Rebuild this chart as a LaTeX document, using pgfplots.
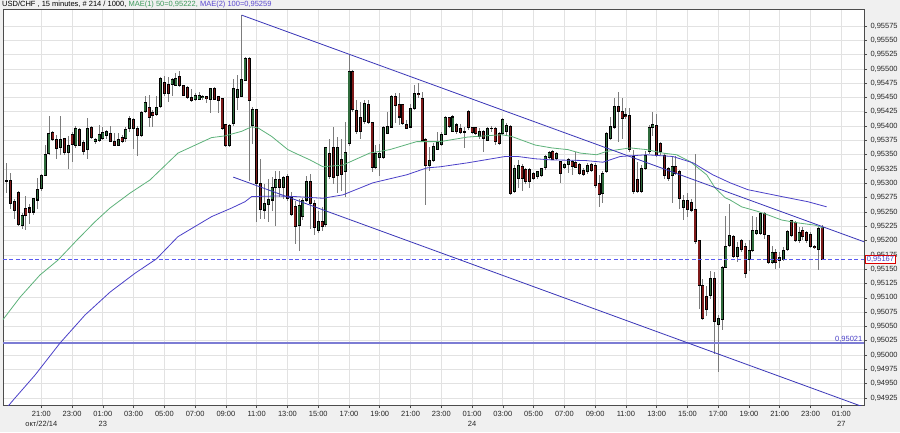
\documentclass[border=0pt]{standalone}
\usepackage{pgfplots}
\pgfplotsset{compat=1.18}
\usepackage{pgfplotstable}
\usepackage{fontspec}
\setmainfont{Liberation Sans}

\definecolor{bg}{HTML}{F0F0F0}
\definecolor{gridc}{HTML}{E2E2E2}
\definecolor{upc}{HTML}{2F6B3C}
\definecolor{dnc}{HTML}{7E1A1A}
\definecolor{wickc}{HTML}{7C7C7C}
\definecolor{magreen}{HTML}{5DB27A}
\definecolor{mablue}{HTML}{4A40C8}
\definecolor{trendc}{HTML}{3A36B8}
\definecolor{hlinec}{HTML}{5A5AF0}
\definecolor{hlinelt}{HTML}{7C7CD4}
\definecolor{hdrgreen}{HTML}{3E9A5C}
\definecolor{hdrblue}{HTML}{5A48D0}

% 15 minute candles, k = bar number
\pgfplotstableread{
k o h l c
0 0.95306 0.95337 0.95284 0.95305
1 0.95306 0.95319 0.95256 0.95265
2 0.95269 0.95273 0.95238 0.95253
3 0.95285 0.95288 0.95226 0.95228
4 0.95227 0.95250 0.95222 0.95245
5 0.95256 0.95279 0.95220 0.95245
6 0.95257 0.95265 0.95230 0.95249
7 0.95251 0.95276 0.95247 0.95275
8 0.95272 0.95310 0.95255 0.95290
9 0.95291 0.95317 0.95288 0.95313
10 0.95314 0.95368 0.95313 0.95352
11 0.95354 0.95419 0.95350 0.95389
12 0.95389 0.95392 0.95374 0.95378
13 0.95378 0.95385 0.95343 0.95362
14 0.95362 0.95419 0.95350 0.95376
15 0.95378 0.95380 0.95350 0.95354
16 0.95354 0.95383 0.95325 0.95366
17 0.95386 0.95389 0.95337 0.95368
18 0.95367 0.95401 0.95364 0.95398
19 0.95396 0.95399 0.95366 0.95368
20 0.95372 0.95376 0.95350 0.95357
21 0.95361 0.95414 0.95343 0.95398
22 0.95398 0.95401 0.95378 0.95380
23 0.95375 0.95380 0.95370 0.95378
24 0.95375 0.95403 0.95372 0.95385
25 0.95379 0.95399 0.95376 0.95390
26 0.95385 0.95395 0.95379 0.95392
27 0.95389 0.95400 0.95373 0.95375
28 0.95374 0.95388 0.95366 0.95367
29 0.95368 0.95389 0.95366 0.95378
30 0.95382 0.95386 0.95372 0.95374
31 0.95380 0.95400 0.95374 0.95396
32 0.95396 0.95419 0.95391 0.95413
33 0.95413 0.95415 0.95361 0.95398
34 0.95398 0.95401 0.95348 0.95385
35 0.95385 0.95427 0.95382 0.95426
36 0.95426 0.95454 0.95423 0.95441
37 0.95433 0.95455 0.95399 0.95416
38 0.95424 0.95429 0.95399 0.95418
39 0.95422 0.95455 0.95420 0.95434
40 0.95434 0.95487 0.95433 0.95484
41 0.95478 0.95487 0.95453 0.95458
42 0.95474 0.95487 0.95443 0.95458
43 0.95474 0.95484 0.95453 0.95482
44 0.95472 0.95493 0.95471 0.95484
45 0.95487 0.95496 0.95468 0.95471
46 0.95472 0.95472 0.95453 0.95455
47 0.95469 0.95471 0.95449 0.95451
48 0.95451 0.95466 0.95443 0.95445
49 0.95447 0.95459 0.95445 0.95453
50 0.95447 0.95461 0.95446 0.95455
51 0.95451 0.95455 0.95447 0.95453
52 0.95452 0.95453 0.95441 0.95449
53 0.95447 0.95466 0.95424 0.95465
54 0.95466 0.95469 0.95446 0.95447
55 0.95453 0.95453 0.95423 0.95446
56 0.95449 0.95449 0.95395 0.95396
57 0.95404 0.95405 0.95365 0.95367
58 0.95367 0.95404 0.95364 0.95402
59 0.95405 0.95484 0.95402 0.95466
60 0.95451 0.95490 0.95429 0.95466
61 0.95453 0.95594 0.95451 0.95482
62 0.95481 0.95522 0.95480 0.95519
63 0.95520 0.95522 0.95306 0.95446
64 0.95402 0.95434 0.95370 0.95429
65 0.95429 0.95430 0.95233 0.95300
66 0.95300 0.95344 0.95238 0.95256
67 0.95254 0.95300 0.95238 0.95265
68 0.95265 0.95309 0.95233 0.95274
69 0.95272 0.95312 0.95253 0.95294
70 0.95294 0.95323 0.95227 0.95309
71 0.95309 0.95323 0.95276 0.95294
72 0.95294 0.95314 0.95274 0.95312
73 0.95313 0.95317 0.95271 0.95274
74 0.95276 0.95285 0.95244 0.95247
75 0.95260 0.95270 0.95195 0.95225
76 0.95228 0.95274 0.95183 0.95262
77 0.95242 0.95274 0.95236 0.95271
78 0.95271 0.95313 0.95268 0.95303
79 0.95304 0.95318 0.95221 0.95265
80 0.95265 0.95271 0.95209 0.95224
81 0.95218 0.95253 0.95215 0.95233
82 0.95234 0.95259 0.95218 0.95224
83 0.95230 0.95364 0.95224 0.95364
84 0.95353 0.95379 0.95309 0.95312
85 0.95364 0.95399 0.95300 0.95312
86 0.95315 0.95382 0.95285 0.95364
87 0.95341 0.95379 0.95288 0.95315
88 0.95323 0.95408 0.95277 0.95356
89 0.95370 0.95525 0.95367 0.95496
90 0.95496 0.95499 0.95426 0.95429
91 0.95429 0.95447 0.95388 0.95391
92 0.95414 0.95443 0.95379 0.95391
93 0.95408 0.95447 0.95405 0.95440
94 0.95438 0.95446 0.95404 0.95408
95 0.95408 0.95408 0.95321 0.95329
96 0.95329 0.95367 0.95326 0.95353
97 0.95346 0.95370 0.95315 0.95353
98 0.95347 0.95402 0.95344 0.95399
99 0.95388 0.95426 0.95387 0.95401
100 0.95399 0.95455 0.95397 0.95452
101 0.95452 0.95458 0.95405 0.95436
102 0.95439 0.95458 0.95402 0.95417
103 0.95438 0.95439 0.95402 0.95405
104 0.95404 0.95411 0.95394 0.95397
105 0.95399 0.95438 0.95398 0.95432
106 0.95432 0.95473 0.95429 0.95458
107 0.95457 0.95476 0.95449 0.95455
108 0.95449 0.95461 0.95373 0.95376
109 0.95376 0.95379 0.95262 0.95332
110 0.95332 0.95364 0.95323 0.95341
111 0.95341 0.95370 0.95338 0.95366
112 0.95361 0.95391 0.95358 0.95373
113 0.95369 0.95391 0.95367 0.95386
114 0.95386 0.95417 0.95385 0.95415
115 0.95415 0.95417 0.95397 0.95400
116 0.95391 0.95420 0.95390 0.95417
117 0.95403 0.95406 0.95388 0.95391
118 0.95398 0.95404 0.95388 0.95391
119 0.95392 0.95400 0.95362 0.95391
120 0.95426 0.95429 0.95394 0.95398
121 0.95398 0.95400 0.95388 0.95390
122 0.95398 0.95400 0.95386 0.95388
123 0.95382 0.95398 0.95379 0.95391
124 0.95391 0.95394 0.95356 0.95379
125 0.95376 0.95398 0.95374 0.95397
126 0.95397 0.95400 0.95391 0.95398
127 0.95397 0.95400 0.95368 0.95374
128 0.95388 0.95391 0.95368 0.95371
129 0.95388 0.95415 0.95385 0.95412
130 0.95391 0.95406 0.95385 0.95402
131 0.95400 0.95402 0.95281 0.95283
132 0.95286 0.95333 0.95285 0.95327
133 0.95309 0.95341 0.95292 0.95333
134 0.95330 0.95333 0.95286 0.95309
135 0.95324 0.95327 0.95300 0.95303
136 0.95324 0.95327 0.95292 0.95303
137 0.95318 0.95320 0.95306 0.95309
138 0.95312 0.95322 0.95309 0.95321
139 0.95315 0.95328 0.95312 0.95327
140 0.95327 0.95350 0.95324 0.95347
141 0.95347 0.95359 0.95345 0.95356
142 0.95357 0.95359 0.95343 0.95344
143 0.95344 0.95356 0.95341 0.95353
144 0.95340 0.95341 0.95302 0.95318
145 0.95327 0.95335 0.95324 0.95333
146 0.95333 0.95344 0.95318 0.95341
147 0.95340 0.95341 0.95315 0.95330
148 0.95337 0.95356 0.95327 0.95328
149 0.95333 0.95335 0.95315 0.95318
150 0.95324 0.95327 0.95314 0.95316
151 0.95321 0.95336 0.95318 0.95333
152 0.95334 0.95337 0.95320 0.95324
153 0.95333 0.95336 0.95292 0.95298
154 0.95300 0.95315 0.95259 0.95280
155 0.95283 0.95321 0.95265 0.95318
156 0.95320 0.95391 0.95318 0.95388
157 0.95379 0.95417 0.95376 0.95400
158 0.95400 0.95450 0.95397 0.95435
159 0.95435 0.95460 0.95374 0.95426
160 0.95426 0.95450 0.95379 0.95414
161 0.95420 0.95432 0.95414 0.95417
162 0.95419 0.95432 0.95356 0.95359
163 0.95347 0.95359 0.95283 0.95286
164 0.95306 0.95338 0.95283 0.95286
165 0.95286 0.95333 0.95283 0.95327
166 0.95327 0.95356 0.95324 0.95350
167 0.95356 0.95403 0.95353 0.95398
168 0.95397 0.95426 0.95385 0.95403
169 0.95403 0.95423 0.95347 0.95350
170 0.95371 0.95374 0.95350 0.95356
171 0.95350 0.95353 0.95308 0.95315
172 0.95327 0.95330 0.95306 0.95309
173 0.95315 0.95347 0.95268 0.95330
174 0.95330 0.95347 0.95315 0.95318
175 0.95322 0.95324 0.95256 0.95274
176 0.95259 0.95280 0.95236 0.95271
177 0.95271 0.95283 0.95242 0.95256
178 0.95268 0.95274 0.95251 0.95255
179 0.95254 0.95353 0.95195 0.95198
180 0.95201 0.95201 0.95081 0.95122
181 0.95122 0.95134 0.95061 0.95064
182 0.95104 0.95122 0.95069 0.95081
183 0.95105 0.95148 0.95099 0.95134
184 0.95134 0.95145 0.95002 0.95058
185 0.95055 0.95069 0.94970 0.95065
186 0.95064 0.95157 0.95046 0.95155
187 0.95155 0.95242 0.95151 0.95192
188 0.95192 0.95263 0.95188 0.95210
189 0.95208 0.95210 0.95171 0.95173
190 0.95172 0.95198 0.95163 0.95189
191 0.95200 0.95204 0.95181 0.95184
192 0.95189 0.95198 0.95137 0.95143
193 0.95169 0.95201 0.95148 0.95184
194 0.95184 0.95243 0.95181 0.95219
195 0.95213 0.95242 0.95210 0.95219
196 0.95213 0.95251 0.95210 0.95248
197 0.95248 0.95251 0.95204 0.95210
198 0.95210 0.95210 0.95160 0.95163
199 0.95163 0.95192 0.95160 0.95181
200 0.95181 0.95187 0.95151 0.95163
201 0.95166 0.95181 0.95154 0.95172
202 0.95169 0.95190 0.95166 0.95184
203 0.95184 0.95219 0.95181 0.95216
204 0.95236 0.95237 0.95207 0.95210
205 0.95233 0.95236 0.95198 0.95201
206 0.95201 0.95225 0.95198 0.95216
207 0.95218 0.95223 0.95201 0.95207
208 0.95216 0.95219 0.95198 0.95201
209 0.95213 0.95216 0.95189 0.95192
210 0.95191 0.95192 0.95186 0.95188
211 0.95186 0.95225 0.95149 0.95222
212 0.95223 0.95227 0.95166 0.95167
}\candles

\begin{document}
\begin{tikzpicture}
\fill[bg] (0,0) rectangle (900pt,432pt);
\begin{axis}[
  at={(3pt,27pt)}, anchor=south west,
  scale only axis, width=861pt, height=396pt,
  xmin=-0.96, xmax=222.9, ymin=0.949128, ymax=0.956047,
  axis background/.style={fill=white},
  axis line style={draw=black!70, line width=0.8pt},
  grid=major, grid style={draw=gridc, line width=0.8pt},
  tick align=outside, major tick length=3pt,
  tick style={draw=black!70, line width=0.6pt},
  ytick pos=right, yticklabel pos=right,
  xtick pos=left,
  scaled y ticks=false,
  ytick={0.94925,0.9495,0.94975,0.95,0.95025,0.9505,0.95075,0.951,0.95125,0.9515,0.95175,0.952,0.95225,0.9525,0.95275,0.953,0.95325,0.9535,0.95375,0.954,0.95425,0.9545,0.95475,0.955,0.95525,0.9555,0.95575},
  yticklabel style={/pgf/number format/.cd, fixed, fixed zerofill, precision=5, use comma, assume math mode=true},
  tick label style={font=\fontsize{7.5}{10}\selectfont, text=black!85},
  xtick={9,17,...,217},
  xticklabels={{21:00\\окт/22/14},{23:00},{01:00\\23},{03:00},{05:00},{07:00},{09:00},{11:00},{13:00},{15:00},{17:00},{19:00},{21:00},{23:00},{01:00\\24},{03:00},{05:00},{07:00},{09:00},{11:00},{13:00},{15:00},{17:00},{19:00},{21:00},{23:00},{01:00\\27}},
  xticklabel style={align=center},
]
% wicks
\addplot[draw=none, mark=none, forget plot,
  error bars/.cd, y dir=both, y explicit, error mark=none,
  error bar style={draw=wickc, line width=0.9pt, solid}]
  table[x=k, y expr=(\thisrow{h}+\thisrow{l})/2, y error expr=(\thisrow{h}-\thisrow{l})/2] {\candles};
% body outlines
\addplot[draw=none, mark=none, forget plot,
  error bars/.cd, y dir=both, y explicit, error mark=none,
  error bar style={draw=black, line width=3pt, solid}]
  table[x=k, y expr=(\thisrow{o}+\thisrow{c})/2, y error expr={abs(\thisrow{o}-\thisrow{c})/2+0.000009}] {\candles};
% rising bodies
\addplot[draw=none, mark=none, forget plot,
  restrict expr to domain={\thisrow{c}-\thisrow{o}}{0.000001:1},
  error bars/.cd, y dir=both, y explicit, error mark=none,
  error bar style={draw=upc, line width=1.4pt, solid}]
  table[x=k, y expr=(\thisrow{o}+\thisrow{c})/2, y error expr={max(abs(\thisrow{o}-\thisrow{c})/2-0.000009,0)}] {\candles};
% falling bodies
\addplot[draw=none, mark=none, forget plot,
  restrict expr to domain={\thisrow{o}-\thisrow{c}}{0.000001:1},
  error bars/.cd, y dir=both, y explicit, error mark=none,
  error bar style={draw=dnc, line width=1.4pt, solid}]
  table[x=k, y expr=(\thisrow{o}+\thisrow{c})/2, y error expr={max(abs(\thisrow{o}-\thisrow{c})/2-0.000009,0)}] {\candles};

% price lines
\addplot[color=hlinec, line width=1.2pt, dash pattern=on 4pt off 2.5pt, mark=none] table {
x y
-1 0.95167
223 0.95167
};
\addplot[color=hlinelt, line width=1.3pt, mark=none] table {
x y
-1 0.95021
223 0.95021
};

% MAE(1) 50
\addplot[color=magreen, line width=0.8pt, mark=none] coordinates {
(-0.96,0.95062) (3.46,0.95101) (8.66,0.95140) (13.34,0.95166) (18.28,0.95201) (22.96,0.95233)
(26.86,0.95257) (32.06,0.95283) (37.26,0.95306) (44.54,0.95353) (53.25,0.95380) (56.76,0.95383)
(61.1,0.95391) (63.7,0.95399) (65.34,0.95397) (68.9,0.95382) (73.1,0.95359) (74.96,0.95353)
(78.86,0.95341) (82.24,0.95329) (87.4,0.95332) (94.4,0.95353) (99.6,0.95359) (106.6,0.95373)
(112.7,0.95373) (119.9,0.95381) (128.7,0.95385) (131.3,0.95382) (137.4,0.95367) (141.7,0.95362)
(145.9,0.95359) (149.1,0.95353) (153.4,0.95350) (156,0.95356) (162.1,0.95362) (166.4,0.95359)
(170.6,0.95353) (174.2,0.95350) (177.7,0.95338) (182,0.95315) (184.2,0.95292) (186.8,0.95275)
(188.1,0.95271) (191.1,0.95259) (195.3,0.95251) (197.9,0.95245) (201.5,0.95236) (205.7,0.95231)
(210.2,0.95227) (212.3,0.95222)
};
% MAE(2) 100
\addplot[color=mablue, line width=0.8pt, mark=none] coordinates {
(-1,0.94900) (1.9,0.94923) (7.36,0.94965) (13.86,0.95021) (20.36,0.95070) (26.86,0.95110)
(33.36,0.95143) (38.92,0.95168) (44.54,0.95207) (53.3,0.95242) (58.5,0.95257) (61.96,0.95268)
(63.7,0.95277) (70.5,0.95278) (74.96,0.95277) (82.24,0.95274) (87.44,0.95280) (95.2,0.95301)
(104,0.95315) (109.2,0.95327) (112.7,0.95329) (119.9,0.95336) (129.6,0.95347) (132.9,0.95347)
(137.4,0.95343) (141.7,0.95341) (150.4,0.95340) (155,0.95337) (159.5,0.95347) (166.4,0.95350)
(173.2,0.95347) (178.4,0.95336) (183.6,0.95315) (188.1,0.95301) (192.7,0.95289) (201.5,0.95277)
(208.3,0.95268) (213.2,0.95259)
};
% trend channel
\addplot[color=trendc, line width=0.8pt, mark=none] coordinates {(61.1,0.95594) (222.9,0.95198)};
\addplot[color=trendc, line width=0.8pt, mark=none] coordinates {(58.9,0.95311) (222.9,0.94909)};
\end{axis}

\node[anchor=base west, inner sep=0, font=\fontsize{7.5}{9}\selectfont] at (2pt,425pt)
  {USD/CHF , 15 minutes, \# 214 / 1000, \textcolor{hdrgreen}{MAE(1) 50=0,95222,} \textcolor{hdrblue}{MAE(2) 100=0,95259}};
\node[draw=red!85!black, fill=white, text=mablue, inner xsep=1.5pt, inner ysep=1pt, line width=0.6pt,
  font=\fontsize{7.5}{9}\selectfont] at (880.5pt,172.5pt) {0,95167};
\node[anchor=base east, inner sep=0, text=mablue, font=\fontsize{7.5}{9}\selectfont] at (862.5pt,90.5pt) {0,95021};

\pgfresetboundingbox
\path[use as bounding box] (0,0) rectangle (900pt,432pt);
\end{tikzpicture}
\end{document}
